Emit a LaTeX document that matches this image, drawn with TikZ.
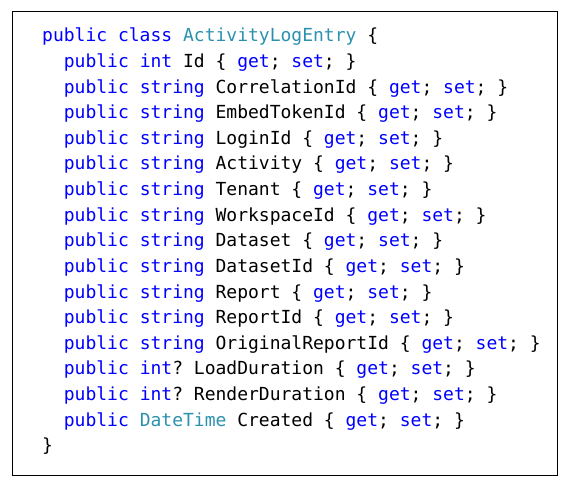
\documentclass[tikz,border=0pt]{standalone}
\usepackage{fontspec}
\setmonofont{DejaVu Sans Mono}
\definecolor{kw}{HTML}{0000FF}
\definecolor{ty}{HTML}{2B91AF}
\newcommand{\K}[1]{\textcolor{kw}{#1}}
\newcommand{\T}[1]{\textcolor{ty}{#1}}
\newcommand{\GS}{\{ \K{get}; \K{set}; \}}
\begin{document}
\begin{tikzpicture}[x=1pt,y=1pt,
  codeline/.style={anchor=base west,inner sep=0pt,font=\ttfamily\fontsize{18}{18}\selectfont,text=black}]
\useasboundingbox (0,0) rectangle (570,-486);
\draw[line width=1pt] (12.5,-11.5) rectangle (557,-475);
\def\pitch{25.6}
\node[codeline] (l0) at (42,-42) {\K{public} \K{class} \T{ActivityLogEntry} \{};
\node[codeline] (l1) at (63.7,-42-1*\pitch) {\K{public} \K{int} Id \GS};
\node[codeline] (l2) at (63.7,-42-2*\pitch) {\K{public} \K{string} CorrelationId \GS};
\node[codeline] (l3) at (63.7,-42-3*\pitch) {\K{public} \K{string} EmbedTokenId \GS};
\node[codeline] (l4) at (63.7,-42-4*\pitch) {\K{public} \K{string} LoginId \GS};
\node[codeline] (l5) at (63.7,-42-5*\pitch) {\K{public} \K{string} Activity \GS};
\node[codeline] (l6) at (63.7,-42-6*\pitch) {\K{public} \K{string} Tenant \GS};
\node[codeline] (l7) at (63.7,-42-7*\pitch) {\K{public} \K{string} WorkspaceId \GS};
\node[codeline] (l8) at (63.7,-42-8*\pitch) {\K{public} \K{string} Dataset \GS};
\node[codeline] (l9) at (63.7,-42-9*\pitch) {\K{public} \K{string} DatasetId \GS};
\node[codeline] (l10) at (63.7,-42-10*\pitch) {\K{public} \K{string} Report \GS};
\node[codeline] (l11) at (63.7,-42-11*\pitch) {\K{public} \K{string} ReportId \GS};
\node[codeline] (l12) at (63.7,-42-12*\pitch) {\K{public} \K{string} OriginalReportId \GS};
\node[codeline] (l13) at (63.7,-42-13*\pitch) {\K{public} \K{int}? LoadDuration \GS};
\node[codeline] (l14) at (63.7,-42-14*\pitch) {\K{public} \K{int}? RenderDuration \GS};
\node[codeline] (l15) at (63.7,-42-15*\pitch) {\K{public} \T{DateTime} Created \GS};
\node[codeline] (l16) at (42,-42-16*\pitch) {\}};
\end{tikzpicture}
\end{document}
